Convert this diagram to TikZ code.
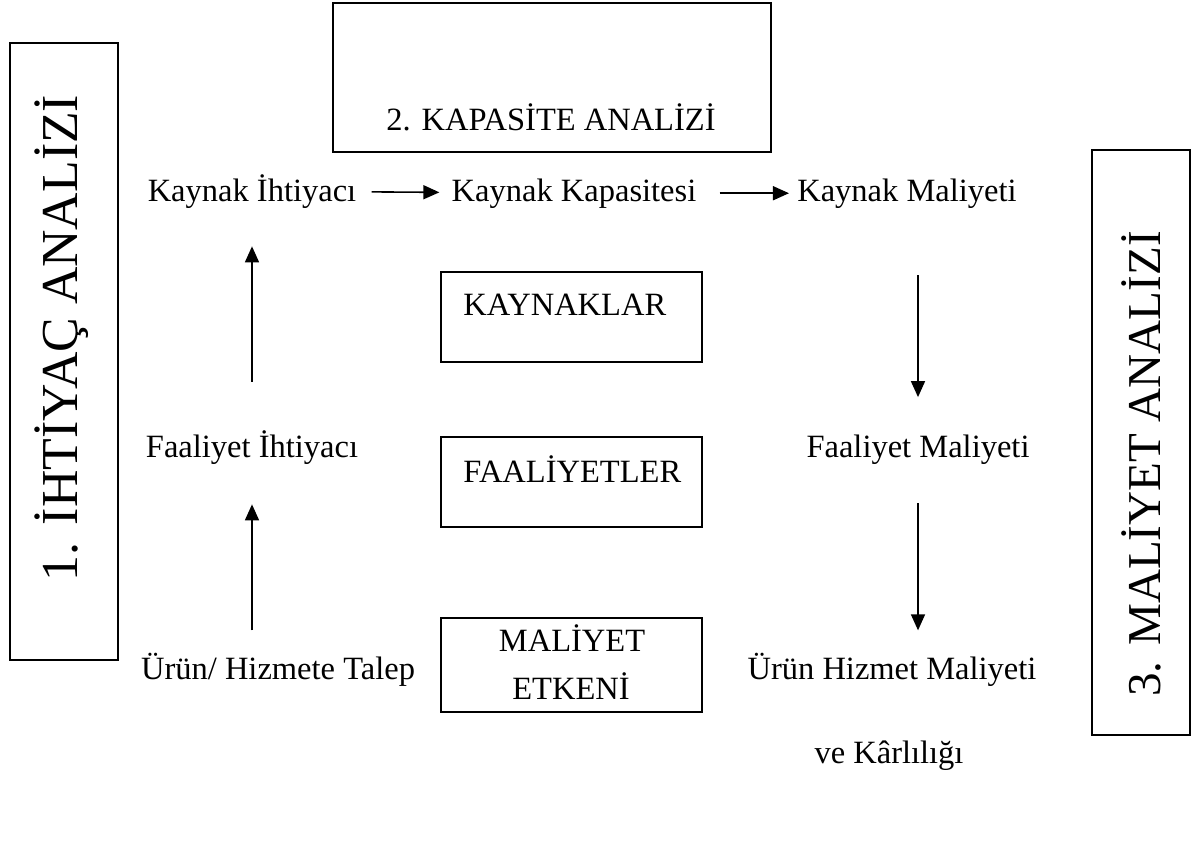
\documentclass[tikz,border=0pt]{standalone}
\usepackage{fontspec}
\setmainfont{Liberation Serif}
\usetikzlibrary{arrows.meta}

\begin{document}
\begin{tikzpicture}[
          x=0.02cm, y=-0.02cm,
          frame/.style={rectangle, draw=black, line width=1.1pt,
                        inner sep=0pt},
          txt/.style={inner sep=0pt, anchor=base,
                      font=\fontsize{18.5}{22}\selectfont},
          side/.style={inner sep=0pt, rotate=90},
          flow/.style={line width=0.9pt,
                       -{Triangle[length=0.32cm, width=0.28cm]}}
        ]
          \useasboundingbox (0,0) rectangle (1202,862);
          % three analysis frames
          \node[frame, minimum width=12.34cm, minimum height=2.16cm,
                rotate=90] (needbox) at (64,351.5) {};
          \node[frame, minimum width=8.76cm, minimum height=2.98cm] (capbox) at (552,77.5) {};
          \node[frame, minimum width=11.7cm, minimum height=1.96cm,
                rotate=90] (costbox) at (1141,442.5) {};
          \node[side, font=\fontsize{29.5}{34}\selectfont] (needlbl) at (62,338) {1. İHTİYAÇ ANALİZİ};
          \node[txt] (caplbl) at (551,130) {2. KAPASİTE ANALİZİ};
          \node[side, font=\fontsize{26.8}{31}\selectfont] (costlbl) at (1141,464) {3. MALİYET ANALİZİ};
          % middle boxes
          \node[frame, minimum width=5.22cm, minimum height=1.8cm] (res) at (571.5,317) {};
          \node[frame, minimum width=5.22cm, minimum height=1.8cm] (act) at (571.5,482) {};
          \node[frame, minimum width=5.22cm, minimum height=1.88cm] (drv) at (571.5,665) {};
          \node[txt, anchor=base west] (reslbl) at (463,315) {KAYNAKLAR};
          \node[txt, anchor=base west] (actlbl) at (463,482) {FAALİYETLER};
          \node[txt] (drvlbl1) at (572,651) {MALİYET};
          \node[txt] (drvlbl2) at (571,699) {ETKENİ};
          % flow labels
          \node[txt] (kneed) at (252,201) {Kaynak İhtiyacı};
          \node[txt] (kcap)  at (574,201) {Kaynak Kapasitesi};
          \node[txt] (kcost) at (907,201) {Kaynak Maliyeti};
          \node[txt] (fneed) at (252,457) {Faaliyet İhtiyacı};
          \node[txt] (fcost) at (918,457) {Faaliyet Maliyeti};
          \node[txt] (talep) at (278,679) {Ürün/ Hizmete Talep};
          \node[txt] (pcost) at (892,679) {Ürün Hizmet Maliyeti};
          \node[txt] (prof)  at (889,763) {ve Kârlılığı};
          % arrows
          \draw[flow, shorten <=0.3cm, shorten >=0.24cm] (kneed) -- (kcap);
          \draw[flow, shorten <=0.46cm, shorten >=0.16cm] (kcap) -- (kcost);
          \draw[flow, shorten <=0.44cm, shorten >=0.8cm] (talep.north -| fneed.south) -- (fneed.south);
          \draw[flow, shorten <=0.96cm, shorten >=0.76cm] (fneed.north) -- (kneed.south);
          \draw[flow, shorten <=1.34cm, shorten >=0.74cm] (kcost.south -| fcost.north) -- (fcost.north);
          \draw[flow, shorten <=0.78cm, shorten >=0.44cm] (fcost.south) -- (fcost.south |- pcost.north);
        \end{tikzpicture}
\end{document}
